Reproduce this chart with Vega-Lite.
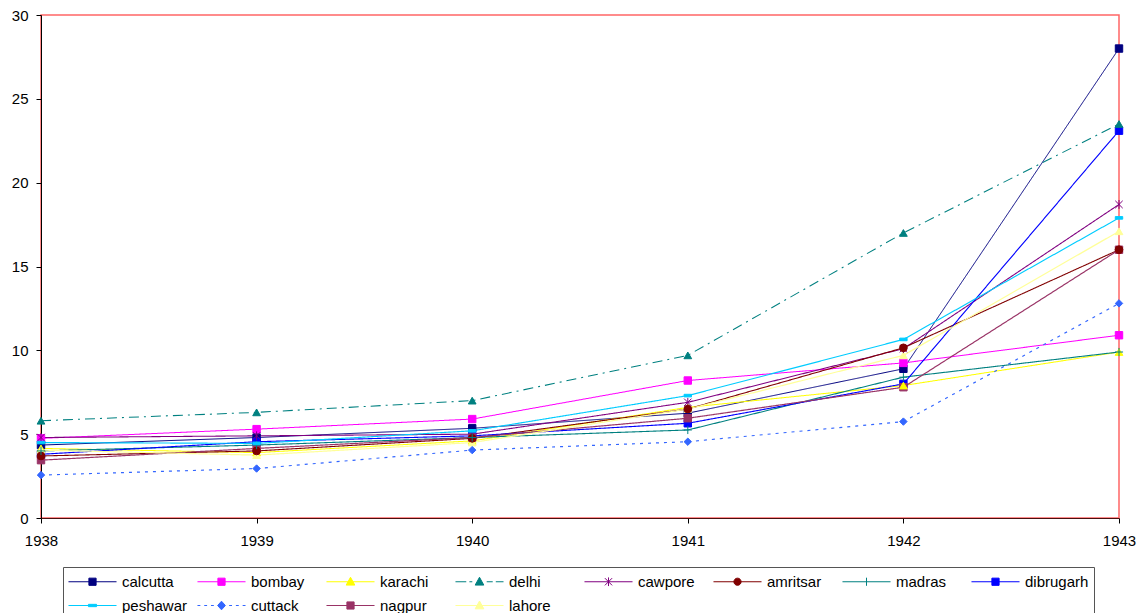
{
  "$schema": "https://vega.github.io/schema/vega-lite/v6.json",
  "width": 1078,
  "height": 503,
  "autosize": {"type": "none"},
  "padding": {"left": 41, "top": 15, "right": 27, "bottom": 95},
  "background": "white",
  "config": {
    "font": "Liberation Sans",
    "view": {"stroke": "#FF6666", "strokeWidth": 1.5},
    "axis": {"labelFont": "Liberation Sans", "labelFontSize": 15, "labelColor": "#000", "domainColor": "#000", "tickColor": "#000", "grid": false, "title": null, "tickSize": 5}
  },
  "data": {"values": [
    {"city": "calcutta", "year": 1938, "value": 4.35}, {"city": "calcutta", "year": 1939, "value": 4.8}, {"city": "calcutta", "year": 1940, "value": 5.35}, {"city": "calcutta", "year": 1941, "value": 6.25}, {"city": "calcutta", "year": 1942, "value": 8.9}, {"city": "calcutta", "year": 1943, "value": 28.0},
    {"city": "bombay", "year": 1938, "value": 4.75}, {"city": "bombay", "year": 1939, "value": 5.3}, {"city": "bombay", "year": 1940, "value": 5.9}, {"city": "bombay", "year": 1941, "value": 8.2}, {"city": "bombay", "year": 1942, "value": 9.25}, {"city": "bombay", "year": 1943, "value": 10.9},
    {"city": "karachi", "year": 1938, "value": 4.15}, {"city": "karachi", "year": 1939, "value": 3.9}, {"city": "karachi", "year": 1940, "value": 4.6}, {"city": "karachi", "year": 1941, "value": 6.6}, {"city": "karachi", "year": 1942, "value": 7.9}, {"city": "karachi", "year": 1943, "value": 9.9},
    {"city": "delhi", "year": 1938, "value": 5.8}, {"city": "delhi", "year": 1939, "value": 6.3}, {"city": "delhi", "year": 1940, "value": 7.0}, {"city": "delhi", "year": 1941, "value": 9.7}, {"city": "delhi", "year": 1942, "value": 17.0}, {"city": "delhi", "year": 1943, "value": 23.5},
    {"city": "cawpore", "year": 1938, "value": 4.8}, {"city": "cawpore", "year": 1939, "value": 4.9}, {"city": "cawpore", "year": 1940, "value": 5.0}, {"city": "cawpore", "year": 1941, "value": 6.9}, {"city": "cawpore", "year": 1942, "value": 10.1}, {"city": "cawpore", "year": 1943, "value": 18.7},
    {"city": "amritsar", "year": 1938, "value": 3.7}, {"city": "amritsar", "year": 1939, "value": 4.0}, {"city": "amritsar", "year": 1940, "value": 4.75}, {"city": "amritsar", "year": 1941, "value": 6.5}, {"city": "amritsar", "year": 1942, "value": 10.15}, {"city": "amritsar", "year": 1943, "value": 16.0},
    {"city": "madras", "year": 1938, "value": 4.0}, {"city": "madras", "year": 1939, "value": 4.35}, {"city": "madras", "year": 1940, "value": 4.8}, {"city": "madras", "year": 1941, "value": 5.25}, {"city": "madras", "year": 1942, "value": 8.4}, {"city": "madras", "year": 1943, "value": 9.9},
    {"city": "dibrugarh", "year": 1938, "value": 3.8}, {"city": "dibrugarh", "year": 1939, "value": 4.55}, {"city": "dibrugarh", "year": 1940, "value": 4.9}, {"city": "dibrugarh", "year": 1941, "value": 5.65}, {"city": "dibrugarh", "year": 1942, "value": 8.0}, {"city": "dibrugarh", "year": 1943, "value": 23.1},
    {"city": "peshawar", "year": 1938, "value": 4.5}, {"city": "peshawar", "year": 1939, "value": 4.45}, {"city": "peshawar", "year": 1940, "value": 5.2}, {"city": "peshawar", "year": 1941, "value": 7.3}, {"city": "peshawar", "year": 1942, "value": 10.65}, {"city": "peshawar", "year": 1943, "value": 17.9},
    {"city": "cuttack", "year": 1938, "value": 2.56}, {"city": "cuttack", "year": 1939, "value": 2.95}, {"city": "cuttack", "year": 1940, "value": 4.05}, {"city": "cuttack", "year": 1941, "value": 4.55}, {"city": "cuttack", "year": 1942, "value": 5.75}, {"city": "cuttack", "year": 1943, "value": 12.8},
    {"city": "nagpur", "year": 1938, "value": 3.45}, {"city": "nagpur", "year": 1939, "value": 4.15}, {"city": "nagpur", "year": 1940, "value": 4.8}, {"city": "nagpur", "year": 1941, "value": 5.95}, {"city": "nagpur", "year": 1942, "value": 7.8}, {"city": "nagpur", "year": 1943, "value": 16.0},
    {"city": "lahore", "year": 1938, "value": 4.05}, {"city": "lahore", "year": 1939, "value": 3.75}, {"city": "lahore", "year": 1940, "value": 4.5}, {"city": "lahore", "year": 1941, "value": 6.5}, {"city": "lahore", "year": 1942, "value": 9.7}, {"city": "lahore", "year": 1943, "value": 17.1}
  ]},
  "encoding": {
    "x": {"field": "year", "type": "quantitative", "scale": {"domain": [1938, 1943], "nice": false, "zero": false},
      "axis": {"values": [1938, 1939, 1940, 1941, 1942, 1943], "format": "d", "labelPadding": 10, "domainColor": "#4a1010", "labelFlush": false}},
    "y": {"field": "value", "type": "quantitative", "scale": {"domain": [0, 30], "nice": false},
      "axis": {"values": [0, 5, 10, 15, 20, 25, 30], "labelPadding": 8}}
  },
  "layer": [
    {
      "mark": {"type": "line"},
      "encoding": {
        "color": {"field": "city", "type": "nominal", "legend": null,
          "scale": {"domain": ["calcutta", "bombay", "karachi", "delhi", "cawpore", "amritsar", "madras", "dibrugarh", "peshawar", "cuttack", "nagpur", "lahore"],
            "range": ["#000080", "#FF00FF", "#FFFF00", "#008080", "#800080", "#800000", "#008080", "#0000FF", "#00CCFF", "#3366FF", "#993366", "#FFFF99"]}},
        "strokeDash": {"field": "city", "type": "nominal", "legend": null,
          "scale": {"domain": ["calcutta", "bombay", "karachi", "delhi", "cawpore", "amritsar", "madras", "dibrugarh", "peshawar", "cuttack", "nagpur", "lahore"],
            "range": [[1, 0], [1, 0], [1, 0], [10, 5, 2, 5], [1, 0], [1, 0], [1, 0], [1, 0], [1, 0], [3, 5], [1, 0], [1, 0]]}},
        "strokeWidth": {"field": "city", "type": "nominal", "legend": null,
          "scale": {"domain": ["calcutta", "bombay", "karachi", "delhi", "cawpore", "amritsar", "madras", "dibrugarh", "peshawar", "cuttack", "nagpur", "lahore"],
            "range": [1, 1.2, 1.2, 2, 1, 1, 1.2, 1, 1.2, 2, 1, 1.2]}}
      }
    },
    {
      "transform": [{"filter": {"field": "city", "oneOf": ["calcutta", "bombay", "dibrugarh", "nagpur"]}}],
      "mark": {"type": "point", "filled": true, "size": 55, "shape": "square", "strokeWidth": 1, "opacity": 1},
      "encoding": {"color": {"field": "city", "type": "nominal", "legend": null}, "stroke": {"field": "city", "type": "nominal", "legend": null}}
    },
    {
      "transform": [{"filter": {"field": "city", "oneOf": ["karachi", "delhi", "lahore"]}}],
      "mark": {"type": "point", "filled": true, "size": 60, "shape": "triangle-up", "strokeWidth": 1, "opacity": 1},
      "encoding": {"color": {"field": "city", "type": "nominal", "legend": null}, "stroke": {"field": "city", "type": "nominal", "legend": null}}
    },
    {
      "transform": [{"filter": {"field": "city", "equal": "cawpore"}}],
      "mark": {"type": "point", "filled": false, "size": 55, "shape": "M-1,-1L1,1M-1,1L1,-1M0,-1.2V1.2", "strokeWidth": 1, "opacity": 1},
      "encoding": {"stroke": {"field": "city", "type": "nominal", "legend": null}}
    },
    {
      "transform": [{"filter": {"field": "city", "equal": "amritsar"}}],
      "mark": {"type": "point", "filled": true, "size": 60, "shape": "circle", "strokeWidth": 1, "opacity": 1},
      "encoding": {"color": {"field": "city", "type": "nominal", "legend": null}, "stroke": {"field": "city", "type": "nominal", "legend": null}}
    },
    {
      "transform": [{"filter": {"field": "city", "equal": "madras"}}],
      "mark": {"type": "point", "filled": false, "size": 55, "shape": "M-1.1,0H1.1M0,-1.1V1.1", "strokeWidth": 1, "opacity": 1},
      "encoding": {"stroke": {"field": "city", "type": "nominal", "legend": null}}
    },
    {
      "transform": [{"filter": {"field": "city", "equal": "peshawar"}}],
      "mark": {"type": "point", "filled": true, "size": 55, "shape": "M-1,-0.35H1V0.35H-1Z", "strokeWidth": 1, "opacity": 1},
      "encoding": {"color": {"field": "city", "type": "nominal", "legend": null}, "stroke": {"field": "city", "type": "nominal", "legend": null}}
    },
    {
      "transform": [{"filter": {"field": "city", "equal": "cuttack"}}],
      "mark": {"type": "point", "filled": true, "size": 55, "shape": "diamond", "strokeWidth": 1, "opacity": 1},
      "encoding": {"color": {"field": "city", "type": "nominal", "legend": null}, "stroke": {"field": "city", "type": "nominal", "legend": null}}
    },
    {
      "mark": {"type": "point", "filled": true, "opacity": 0},
      "encoding": {
        "color": {"field": "city", "type": "nominal",
          "legend": {"title": null, "orient": "none", "legendX": 22, "legendY": 552, "direction": "horizontal", "columns": 8, "gridAlign": "all", "columnPadding": 7, "rowPadding": 6, "padding": 5, "strokeColor": "#555", "labelFont": "Liberation Sans", "labelFontSize": 15, "labelColor": "#000", "labelOffset": 20, "symbolOffset": 15, "symbolSize": 324, "symbolStrokeWidth": 1, "symbolOpacity": 1}},
        "stroke": {"field": "city", "type": "nominal",
          "scale": {"domain": ["calcutta", "bombay", "karachi", "delhi", "cawpore", "amritsar", "madras", "dibrugarh", "peshawar", "cuttack", "nagpur", "lahore"],
            "range": ["#000080", "#FF00FF", "#FFFF00", "#008080", "#800080", "#800000", "#008080", "#0000FF", "#00CCFF", "#3366FF", "#993366", "#FFFF99"]},
          "legend": {"title": null, "orient": "none", "legendX": 22, "legendY": 552, "direction": "horizontal", "columns": 8, "gridAlign": "all", "columnPadding": 7, "rowPadding": 6, "padding": 5, "strokeColor": "#555", "labelFont": "Liberation Sans", "labelFontSize": 15, "labelColor": "#000", "labelOffset": 20, "symbolOffset": 15, "symbolSize": 324, "symbolStrokeWidth": 1, "symbolOpacity": 1}},
        "shape": {"field": "city", "type": "nominal",
          "legend": {"title": null, "orient": "none", "legendX": 22, "legendY": 552, "direction": "horizontal", "columns": 8, "gridAlign": "all", "columnPadding": 7, "rowPadding": 6, "padding": 5, "strokeColor": "#555", "labelFont": "Liberation Sans", "labelFontSize": 15, "labelColor": "#000", "labelOffset": 20, "symbolOffset": 15, "symbolSize": 324, "symbolStrokeWidth": 1, "symbolOpacity": 1},
          "scale": {"domain": ["calcutta", "bombay", "karachi", "delhi", "cawpore", "amritsar", "madras", "dibrugarh", "peshawar", "cuttack", "nagpur", "lahore"],
            "range": [
              "M-2.67,0H2.67M-0.4,-0.4H0.4V0.4H-0.4Z",
              "M-2.67,0H2.67M-0.4,-0.4H0.4V0.4H-0.4Z",
              "M-2.67,0H2.67M0,-0.5L0.48,0.37H-0.48Z",
              "M-2.67,0H-1.47M-1.12,0H-0.8M0.8,0H1.47M1.81,0H2.67M0,-0.5L0.48,0.37H-0.48Z",
              "M-2.67,0H2.67M-0.4,-0.4L0.4,0.4M-0.4,0.4L0.4,-0.4M0,-0.48V0.48",
              "M-2.67,0H2.67M0.4,0A0.4,0.4 0 1,1 -0.4,0A0.4,0.4 0 1,1 0.4,0Z",
              "M-2.67,0H2.67M0,-0.45V0.45",
              "M-2.67,0H2.67M-0.4,-0.4H0.4V0.4H-0.4Z",
              "M-2.67,0H2.67M-0.45,-0.13H0.45V0.13H-0.45Z",
              "M-2.67,0H-2.35M-1.92,0H-1.6M-1.17,0H-0.85M0.85,0H1.17M1.6,0H1.92M2.35,0H2.67M0,-0.48L0.43,0L0,0.48L-0.43,0Z",
              "M-2.67,0H2.67M-0.4,-0.4H0.4V0.4H-0.4Z",
              "M-2.67,0H2.67M0,-0.5L0.48,0.37H-0.48Z"
            ]}}
      }
    }
  ],
  "resolve": {"legend": {"color": "independent", "stroke": "independent", "shape": "independent"}}
}
